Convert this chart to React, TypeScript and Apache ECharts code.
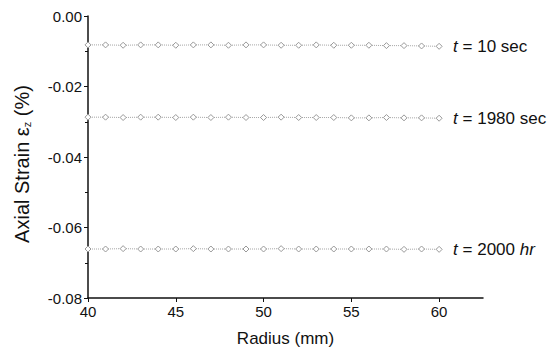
import React, { useEffect, useRef } from "react";
import * as echarts from "echarts";

const radius = [40, 41, 42, 43, 44, 45, 46, 47, 48, 49, 50, 51, 52, 53, 54, 55, 56, 57, 58, 59, 60];
const strain10s = [-0.0082, -0.0082, -0.0083, -0.0082, -0.0082, -0.0083, -0.0082, -0.0082, -0.0083, -0.0082, -0.0082, -0.0083, -0.0083, -0.0082, -0.0083, -0.0083, -0.0083, -0.0084, -0.0084, -0.0085, -0.0086];
const strain1980s = [-0.0287, -0.0287, -0.0288, -0.0287, -0.0287, -0.0288, -0.0287, -0.0288, -0.0287, -0.0288, -0.0288, -0.0287, -0.0288, -0.0288, -0.0288, -0.0289, -0.0289, -0.0288, -0.0289, -0.0289, -0.029];
const strain2000hr = [-0.0661, -0.0661, -0.066, -0.0661, -0.0661, -0.0661, -0.066, -0.0661, -0.0661, -0.0661, -0.0661, -0.066, -0.0661, -0.0661, -0.0661, -0.0661, -0.0661, -0.0661, -0.0662, -0.0661, -0.0662];
const seriesLabels = ["{i|t} = 10 sec", "{i|t} = 1980 sec", "{i|t} = 2000 {i|hr}"];
const xTicks = [40, 45, 50, 55, 60];

const FONT = "Liberation Sans, Arial, sans-serif";

export default function App() {
  const ref = useRef<HTMLDivElement>(null);
  useEffect(() => {
    if (!ref.current) return;
    const chart = echarts.init(ref.current, undefined, { renderer: "svg" });
    const allSeries = [strain10s, strain1980s, strain2000hr];
    chart.setOption({
      animation: false,
      backgroundColor: "#fff",
      textStyle: { fontFamily: FONT },
      grid: { left: 88, right: 75, top: 16, bottom: 62 },
      graphic: [
        {
          type: "text",
          x: 20,
          y: 164,
          rotation: Math.PI / 2,
          style: {
            text: "{a|Axial Strain ε}{s|z}{a| (%)}",
            align: "center",
            verticalAlign: "middle",
            rich: {
              a: { fontSize: 20, fill: "#111", fontFamily: FONT, lineHeight: 24, verticalAlign: "bottom" },
              s: { fontSize: 11, fill: "#111", fontFamily: FONT, lineHeight: 14, verticalAlign: "bottom" },
            },
          },
        },
      ],
      xAxis: {
        type: "value",
        min: 40,
        max: 62.5,
        interval: 5,
        name: "Radius (mm)",
        nameLocation: "middle",
        nameGap: 32,
        nameTextStyle: { fontSize: 17, color: "#111", fontFamily: FONT },
        axisLine: { show: true, onZero: false, lineStyle: { color: "#111", width: 1.5 } },
        axisTick: { show: true, length: 4, customValues: xTicks, lineStyle: { color: "#111" } },
        axisLabel: { customValues: xTicks, fontSize: 15, color: "#111", margin: 6, fontFamily: FONT },
        splitLine: { show: false },
      },
      yAxis: {
        type: "value",
        min: -0.08,
        max: 0,
        interval: 0.02,
        axisLine: { show: true, onZero: false, lineStyle: { color: "#111", width: 1.5 } },
        axisTick: { show: true, length: 4, lineStyle: { color: "#111" } },
        minorTick: { show: true, splitNumber: 2, length: 3, lineStyle: { color: "#111" } },
        axisLabel: {
          fontSize: 15,
          color: "#111",
          margin: 6,
          fontFamily: FONT,
          formatter: (v: number) => (Math.abs(v) < 1e-9 ? "0.00" : v.toFixed(2)),
        },
        splitLine: { show: false },
      },
      series: allSeries.map((vals, i) => ({
        type: "line",
        data: radius.map((r, j) => [r, vals[j]]),
        symbol: "diamond",
        symbolSize: 6,
        itemStyle: { color: "#fff", borderColor: "#999", borderWidth: 1 },
        lineStyle: { color: "#a5a5a5", width: 1, type: "dotted" },
        endLabel: {
          show: true,
          formatter: seriesLabels[i],
          distance: 14,
          fontSize: 17,
          color: "#111",
          fontFamily: FONT,
          rich: {
            i: { fontStyle: "italic", fontSize: 17, color: "#111", fontFamily: FONT },
          },
        },
      })),
    });
    return () => chart.dispose();
  }, []);
  return <div ref={ref} style={{ width: 558, height: 360, margin: -8 }} />;
}
